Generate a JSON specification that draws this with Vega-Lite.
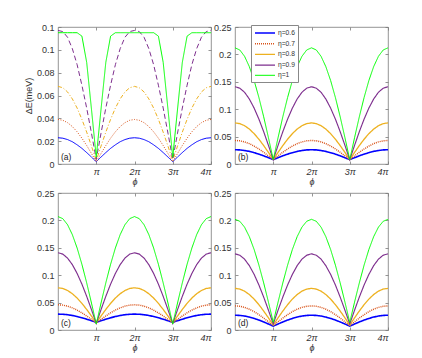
{
"$schema": "https://vega.github.io/schema/vega-lite/v6.json",
"background": "white",
"padding": {"left": 24, "top": 22, "right": 5, "bottom": 5},
"datasets": {
"a": [
{"t":0,"e6":0.023,"e7":0.039,"e8":0.068,"e9":0.117,"e10":0.115},
{"t":0.125,"e6":0.0226,"e7":0.0383,"e8":0.0668,"e9":0.116,"e10":0.115},
{"t":0.25,"e6":0.0214,"e7":0.0362,"e8":0.0631,"e9":0.111,"e10":0.115},
{"t":0.375,"e6":0.0195,"e7":0.0328,"e8":0.057,"e9":0.101,"e10":0.115},
{"t":0.5,"e6":0.0168,"e7":0.0282,"e8":0.049,"e9":0.087,"e10":0.115},
{"t":0.625,"e6":0.0137,"e7":0.0226,"e8":0.0391,"e9":0.069,"e10":0.112},
{"t":0.75,"e6":0.01,"e7":0.0162,"e8":0.0279,"e9":0.049,"e10":0.089},
{"t":0.875,"e6":0.0061,"e7":0.0092,"e8":0.0157,"e9":0.027,"e10":0.048},
{"t":1,"e6":0.002,"e7":0.002,"e8":0.003,"e9":0.004,"e10":0.006},
{"t":1.125,"e6":0.0061,"e7":0.0092,"e8":0.0157,"e9":0.027,"e10":0.048},
{"t":1.25,"e6":0.01,"e7":0.0162,"e8":0.0279,"e9":0.049,"e10":0.089},
{"t":1.375,"e6":0.0137,"e7":0.0226,"e8":0.0391,"e9":0.069,"e10":0.112},
{"t":1.5,"e6":0.0168,"e7":0.0282,"e8":0.049,"e9":0.087,"e10":0.115},
{"t":1.625,"e6":0.0195,"e7":0.0328,"e8":0.057,"e9":0.101,"e10":0.115},
{"t":1.75,"e6":0.0214,"e7":0.0362,"e8":0.0631,"e9":0.111,"e10":0.115},
{"t":1.875,"e6":0.0226,"e7":0.0383,"e8":0.0668,"e9":0.116,"e10":0.115},
{"t":2,"e6":0.023,"e7":0.039,"e8":0.068,"e9":0.117,"e10":0.115},
{"t":2.125,"e6":0.0226,"e7":0.0383,"e8":0.0668,"e9":0.116,"e10":0.115},
{"t":2.25,"e6":0.0214,"e7":0.0362,"e8":0.0631,"e9":0.111,"e10":0.115},
{"t":2.375,"e6":0.0195,"e7":0.0328,"e8":0.057,"e9":0.101,"e10":0.115},
{"t":2.5,"e6":0.0168,"e7":0.0282,"e8":0.049,"e9":0.087,"e10":0.115},
{"t":2.625,"e6":0.0137,"e7":0.0226,"e8":0.0391,"e9":0.069,"e10":0.112},
{"t":2.75,"e6":0.01,"e7":0.0162,"e8":0.0279,"e9":0.049,"e10":0.089},
{"t":2.875,"e6":0.0061,"e7":0.0092,"e8":0.0157,"e9":0.027,"e10":0.048},
{"t":3,"e6":0.002,"e7":0.002,"e8":0.003,"e9":0.004,"e10":0.006},
{"t":3.125,"e6":0.0061,"e7":0.0092,"e8":0.0157,"e9":0.027,"e10":0.048},
{"t":3.25,"e6":0.01,"e7":0.0162,"e8":0.0279,"e9":0.049,"e10":0.089},
{"t":3.375,"e6":0.0137,"e7":0.0226,"e8":0.0391,"e9":0.069,"e10":0.112},
{"t":3.5,"e6":0.0168,"e7":0.0282,"e8":0.049,"e9":0.087,"e10":0.115},
{"t":3.625,"e6":0.0195,"e7":0.0328,"e8":0.057,"e9":0.101,"e10":0.115},
{"t":3.75,"e6":0.0214,"e7":0.0362,"e8":0.0631,"e9":0.111,"e10":0.115},
{"t":3.875,"e6":0.0226,"e7":0.0383,"e8":0.0668,"e9":0.116,"e10":0.115},
{"t":4,"e6":0.023,"e7":0.039,"e8":0.068,"e9":0.117,"e10":0.115}
],
"b": [
{"t":0,"e6":0.026,"e7":0.043,"e8":0.075,"e9":0.141,"e10":0.212},
{"t":0.125,"e6":0.0257,"e7":0.0423,"e8":0.0737,"e9":0.1384,"e10":0.2081},
{"t":0.25,"e6":0.0246,"e7":0.0403,"e8":0.0699,"e9":0.1309,"e10":0.1965},
{"t":0.375,"e6":0.023,"e7":0.0371,"e8":0.0637,"e9":0.1186,"e10":0.1776},
{"t":0.5,"e6":0.0207,"e7":0.0327,"e8":0.0554,"e9":0.102,"e10":0.1523},
{"t":0.625,"e6":0.018,"e7":0.0274,"e8":0.0452,"e9":0.0819,"e10":0.1213},
{"t":0.75,"e6":0.0149,"e7":0.0214,"e8":0.0336,"e9":0.0589,"e10":0.0861},
{"t":0.875,"e6":0.0115,"e7":0.0148,"e8":0.0211,"e9":0.0339,"e10":0.0478},
{"t":1,"e6":0.008,"e7":0.008,"e8":0.008,"e9":0.008,"e10":0.008},
{"t":1.125,"e6":0.0115,"e7":0.0148,"e8":0.0211,"e9":0.0339,"e10":0.0478},
{"t":1.25,"e6":0.0149,"e7":0.0214,"e8":0.0336,"e9":0.0589,"e10":0.0861},
{"t":1.375,"e6":0.018,"e7":0.0274,"e8":0.0452,"e9":0.0819,"e10":0.1213},
{"t":1.5,"e6":0.0207,"e7":0.0327,"e8":0.0554,"e9":0.102,"e10":0.1523},
{"t":1.625,"e6":0.023,"e7":0.0371,"e8":0.0637,"e9":0.1186,"e10":0.1776},
{"t":1.75,"e6":0.0246,"e7":0.0403,"e8":0.0699,"e9":0.1309,"e10":0.1965},
{"t":1.875,"e6":0.0257,"e7":0.0423,"e8":0.0737,"e9":0.1384,"e10":0.2081},
{"t":2,"e6":0.026,"e7":0.043,"e8":0.075,"e9":0.141,"e10":0.212},
{"t":2.125,"e6":0.0257,"e7":0.0423,"e8":0.0737,"e9":0.1384,"e10":0.2081},
{"t":2.25,"e6":0.0246,"e7":0.0403,"e8":0.0699,"e9":0.1309,"e10":0.1965},
{"t":2.375,"e6":0.023,"e7":0.0371,"e8":0.0637,"e9":0.1186,"e10":0.1776},
{"t":2.5,"e6":0.0207,"e7":0.0327,"e8":0.0554,"e9":0.102,"e10":0.1523},
{"t":2.625,"e6":0.018,"e7":0.0274,"e8":0.0452,"e9":0.0819,"e10":0.1213},
{"t":2.75,"e6":0.0149,"e7":0.0214,"e8":0.0336,"e9":0.0589,"e10":0.0861},
{"t":2.875,"e6":0.0115,"e7":0.0148,"e8":0.0211,"e9":0.0339,"e10":0.0478},
{"t":3,"e6":0.008,"e7":0.008,"e8":0.008,"e9":0.008,"e10":0.008},
{"t":3.125,"e6":0.0115,"e7":0.0148,"e8":0.0211,"e9":0.0339,"e10":0.0478},
{"t":3.25,"e6":0.0149,"e7":0.0214,"e8":0.0336,"e9":0.0589,"e10":0.0861},
{"t":3.375,"e6":0.018,"e7":0.0274,"e8":0.0452,"e9":0.0819,"e10":0.1213},
{"t":3.5,"e6":0.0207,"e7":0.0327,"e8":0.0554,"e9":0.102,"e10":0.1523},
{"t":3.625,"e6":0.023,"e7":0.0371,"e8":0.0637,"e9":0.1186,"e10":0.1776},
{"t":3.75,"e6":0.0246,"e7":0.0403,"e8":0.0699,"e9":0.1309,"e10":0.1965},
{"t":3.875,"e6":0.0257,"e7":0.0423,"e8":0.0737,"e9":0.1384,"e10":0.2081},
{"t":4,"e6":0.026,"e7":0.043,"e8":0.075,"e9":0.141,"e10":0.212}
],
"c": [
{"t":0,"e6":0.029,"e7":0.046,"e8":0.077,"e9":0.141,"e10":0.207},
{"t":0.125,"e6":0.0287,"e7":0.0454,"e8":0.0758,"e9":0.1385,"e10":0.2032},
{"t":0.25,"e6":0.0279,"e7":0.0435,"e8":0.0721,"e9":0.1312,"e10":0.1921},
{"t":0.375,"e6":0.0265,"e7":0.0404,"e8":0.0662,"e9":0.1193,"e10":0.174},
{"t":0.5,"e6":0.0246,"e7":0.0363,"e8":0.0583,"e9":0.1032,"e10":0.1496},
{"t":0.625,"e6":0.0223,"e7":0.0313,"e8":0.0486,"e9":0.0837,"e10":0.1199},
{"t":0.75,"e6":0.0197,"e7":0.0256,"e8":0.0375,"e9":0.0614,"e10":0.086},
{"t":0.875,"e6":0.0169,"e7":0.0194,"e8":0.0255,"e9":0.0372,"e10":0.0492},
{"t":1,"e6":0.014,"e7":0.013,"e8":0.013,"e9":0.012,"e10":0.011},
{"t":1.125,"e6":0.0169,"e7":0.0194,"e8":0.0255,"e9":0.0372,"e10":0.0492},
{"t":1.25,"e6":0.0197,"e7":0.0256,"e8":0.0375,"e9":0.0614,"e10":0.086},
{"t":1.375,"e6":0.0223,"e7":0.0313,"e8":0.0486,"e9":0.0837,"e10":0.1199},
{"t":1.5,"e6":0.0246,"e7":0.0363,"e8":0.0583,"e9":0.1032,"e10":0.1496},
{"t":1.625,"e6":0.0265,"e7":0.0404,"e8":0.0662,"e9":0.1193,"e10":0.174},
{"t":1.75,"e6":0.0279,"e7":0.0435,"e8":0.0721,"e9":0.1312,"e10":0.1921},
{"t":1.875,"e6":0.0287,"e7":0.0454,"e8":0.0758,"e9":0.1385,"e10":0.2032},
{"t":2,"e6":0.029,"e7":0.046,"e8":0.077,"e9":0.141,"e10":0.207},
{"t":2.125,"e6":0.0287,"e7":0.0454,"e8":0.0758,"e9":0.1385,"e10":0.2032},
{"t":2.25,"e6":0.0279,"e7":0.0435,"e8":0.0721,"e9":0.1312,"e10":0.1921},
{"t":2.375,"e6":0.0265,"e7":0.0404,"e8":0.0662,"e9":0.1193,"e10":0.174},
{"t":2.5,"e6":0.0246,"e7":0.0363,"e8":0.0583,"e9":0.1032,"e10":0.1496},
{"t":2.625,"e6":0.0223,"e7":0.0313,"e8":0.0486,"e9":0.0837,"e10":0.1199},
{"t":2.75,"e6":0.0197,"e7":0.0256,"e8":0.0375,"e9":0.0614,"e10":0.086},
{"t":2.875,"e6":0.0169,"e7":0.0194,"e8":0.0255,"e9":0.0372,"e10":0.0492},
{"t":3,"e6":0.014,"e7":0.013,"e8":0.013,"e9":0.012,"e10":0.011},
{"t":3.125,"e6":0.0169,"e7":0.0194,"e8":0.0255,"e9":0.0372,"e10":0.0492},
{"t":3.25,"e6":0.0197,"e7":0.0256,"e8":0.0375,"e9":0.0614,"e10":0.086},
{"t":3.375,"e6":0.0223,"e7":0.0313,"e8":0.0486,"e9":0.0837,"e10":0.1199},
{"t":3.5,"e6":0.0246,"e7":0.0363,"e8":0.0583,"e9":0.1032,"e10":0.1496},
{"t":3.625,"e6":0.0265,"e7":0.0404,"e8":0.0662,"e9":0.1193,"e10":0.174},
{"t":3.75,"e6":0.0279,"e7":0.0435,"e8":0.0721,"e9":0.1312,"e10":0.1921},
{"t":3.875,"e6":0.0287,"e7":0.0454,"e8":0.0758,"e9":0.1385,"e10":0.2032},
{"t":4,"e6":0.029,"e7":0.046,"e8":0.077,"e9":0.141,"e10":0.207}
],
"d": [
{"t":0,"e6":0.027,"e7":0.044,"e8":0.076,"e9":0.139,"e10":0.202},
{"t":0.125,"e6":0.0266,"e7":0.0433,"e8":0.0747,"e9":0.1365,"e10":0.1984},
{"t":0.25,"e6":0.0255,"e7":0.0413,"e8":0.0709,"e9":0.1293,"e10":0.1877},
{"t":0.375,"e6":0.0236,"e7":0.0379,"e8":0.0647,"e9":0.1174,"e10":0.1703},
{"t":0.5,"e6":0.0211,"e7":0.0335,"e8":0.0564,"e9":0.1015,"e10":0.1469},
{"t":0.625,"e6":0.0181,"e7":0.028,"e8":0.0462,"e9":0.0821,"e10":0.1184},
{"t":0.75,"e6":0.0147,"e7":0.0218,"e8":0.0346,"e9":0.06,"e10":0.0859},
{"t":0.875,"e6":0.0109,"e7":0.015,"e8":0.0221,"e9":0.036,"e10":0.0507},
{"t":1,"e6":0.007,"e7":0.008,"e8":0.009,"e9":0.011,"e10":0.014},
{"t":1.125,"e6":0.0109,"e7":0.015,"e8":0.0221,"e9":0.036,"e10":0.0507},
{"t":1.25,"e6":0.0147,"e7":0.0218,"e8":0.0346,"e9":0.06,"e10":0.0859},
{"t":1.375,"e6":0.0181,"e7":0.028,"e8":0.0462,"e9":0.0821,"e10":0.1184},
{"t":1.5,"e6":0.0211,"e7":0.0335,"e8":0.0564,"e9":0.1015,"e10":0.1469},
{"t":1.625,"e6":0.0236,"e7":0.0379,"e8":0.0647,"e9":0.1174,"e10":0.1703},
{"t":1.75,"e6":0.0255,"e7":0.0413,"e8":0.0709,"e9":0.1293,"e10":0.1877},
{"t":1.875,"e6":0.0266,"e7":0.0433,"e8":0.0747,"e9":0.1365,"e10":0.1984},
{"t":2,"e6":0.027,"e7":0.044,"e8":0.076,"e9":0.139,"e10":0.202},
{"t":2.125,"e6":0.0266,"e7":0.0433,"e8":0.0747,"e9":0.1365,"e10":0.1984},
{"t":2.25,"e6":0.0255,"e7":0.0413,"e8":0.0709,"e9":0.1293,"e10":0.1877},
{"t":2.375,"e6":0.0236,"e7":0.0379,"e8":0.0647,"e9":0.1174,"e10":0.1703},
{"t":2.5,"e6":0.0211,"e7":0.0335,"e8":0.0564,"e9":0.1015,"e10":0.1469},
{"t":2.625,"e6":0.0181,"e7":0.028,"e8":0.0462,"e9":0.0821,"e10":0.1184},
{"t":2.75,"e6":0.0147,"e7":0.0218,"e8":0.0346,"e9":0.06,"e10":0.0859},
{"t":2.875,"e6":0.0109,"e7":0.015,"e8":0.0221,"e9":0.036,"e10":0.0507},
{"t":3,"e6":0.007,"e7":0.008,"e8":0.009,"e9":0.011,"e10":0.014},
{"t":3.125,"e6":0.0109,"e7":0.015,"e8":0.0221,"e9":0.036,"e10":0.0507},
{"t":3.25,"e6":0.0147,"e7":0.0218,"e8":0.0346,"e9":0.06,"e10":0.0859},
{"t":3.375,"e6":0.0181,"e7":0.028,"e8":0.0462,"e9":0.0821,"e10":0.1184},
{"t":3.5,"e6":0.0211,"e7":0.0335,"e8":0.0564,"e9":0.1015,"e10":0.1469},
{"t":3.625,"e6":0.0236,"e7":0.0379,"e8":0.0647,"e9":0.1174,"e10":0.1703},
{"t":3.75,"e6":0.0255,"e7":0.0413,"e8":0.0709,"e9":0.1293,"e10":0.1877},
{"t":3.875,"e6":0.0266,"e7":0.0433,"e8":0.0747,"e9":0.1365,"e10":0.1984},
{"t":4,"e6":0.027,"e7":0.044,"e8":0.076,"e9":0.139,"e10":0.202}
]
},
"columns": 2,
"spacing": {"row": 29, "column": 24},
"bounds": "flush",
"resolve": {"scale": {"color": "independent", "strokeDash": "independent", "strokeWidth": "independent"}, "legend": {"color": "independent", "strokeDash": "independent", "strokeWidth": "independent"}},
"concat": [
{
"width": 153, "height": 137,
"resolve": {"axis": {"x": "independent", "y": "independent"}},
"layer": [
{"data": {"name": "a"}, "transform": [{"fold": ["e6","e7","e8","e9","e10"], "as": ["eta","v"]}],
 "mark": {"type": "line", "strokeWidth": 1, "clip": true},
 "encoding": {
  "x": {"field": "t", "type": "quantitative", "scale": {"domain": [0,4], "nice": false}, "axis": {"values": [1,2,3,4], "labelOverlap": false, "labelExpr": "datum.value == 1 ? 'π' : datum.value + 'π'", "title": "ϕ"}},
  "y": {"field": "v", "type": "quantitative", "scale": {"domain": [0,0.12], "nice": false}, "axis": {"values": [0,0.02,0.04,0.06,0.08,0.1,0.12], "labelOverlap": false, "format": "~g", "title": "ΔE(meV)"}},
  "color": {"field": "eta", "type": "nominal", "scale": {"domain": ["e6","e7","e8","e9","e10"], "range": ["#0000ff","#d95319","#edb120","#7e2f8e","#00ff00"]}, "legend": null},
  "strokeDash": {"field": "eta", "type": "nominal", "scale": {"domain": ["e6","e7","e8","e9","e10"], "range": [[1,0],[1,1.5],[4,2,1,2],[5,3],[1,0]]}, "legend": null}
 }},
{"data": {"values": [{"lab": "(a)"}]}, "mark": {"type": "text", "align": "left", "baseline": "bottom", "dx": 3, "dy": -2, "fontSize": 8.5, "font": "Liberation Sans", "color": "#222"},
 "encoding": {"x": {"datum": 0, "type": "quantitative", "axis": {"orient": "top", "values": [1,2,3,4], "labels": false, "title": null}}, "y": {"datum": 0, "type": "quantitative", "axis": {"orient": "right", "values": [0,0.02,0.04,0.06,0.08,0.1,0.12], "labels": false, "title": null}}, "text": {"field": "lab"}}}
]
},
{
"width": 153, "height": 137,
"resolve": {"axis": {"x": "independent", "y": "independent"}},
"layer": [
{"data": {"name": "b"}, "transform": [{"fold": ["e6","e7","e8","e9","e10"], "as": ["eta","v"]}],
 "mark": {"type": "line", "clip": true},
 "encoding": {
  "x": {"field": "t", "type": "quantitative", "scale": {"domain": [0,4], "nice": false}, "axis": {"values": [1,2,3,4], "labelOverlap": false, "labelExpr": "datum.value == 1 ? 'π' : datum.value + 'π'", "title": "ϕ"}},
  "y": {"field": "v", "type": "quantitative", "scale": {"domain": [0,0.25], "nice": false}, "axis": {"values": [0,0.05,0.1,0.15,0.2,0.25], "labelOverlap": false, "format": "~g", "title": null}},
  "color": {"field": "eta", "type": "nominal", "scale": {"domain": ["e6","e7","e8","e9","e10"], "range": ["#0000ff","#d95319","#edb120","#7e2f8e","#00ff00"]},
   "legend": {"orient": "none", "legendX": 16, "legendY": -2, "title": null, "symbolType": "M-1,0H4", "symbolSize": 64, "symbolStrokeWidth": 1, "labelFontSize": 6.7, "labelFont": "Liberation Sans", "labelColor": "#333", "labelOffset": 14, "padding": 3, "rowPadding": 1.7, "strokeColor": "#888", "fillColor": "white",
    "labelExpr": "datum.value == 'e6' ? 'η=0.6' : datum.value == 'e7' ? 'η=0.7' : datum.value == 'e8' ? 'η=0.8' : datum.value == 'e9' ? 'η=0.9' : 'η=1'",
    "encode": {"symbols": {"update": {"strokeDash": {"signal": "datum.value == 'e7' ? [1,1.5] : datum.value == 'e8' ? [4,2,1,2] : datum.value == 'e9' ? [5,3] : [1,0]"}, "strokeWidth": {"signal": "datum.value == 'e6' ? 1.8 : 1"}}}}}},
  "strokeWidth": {"field": "eta", "type": "nominal", "scale": {"domain": ["e6","e7","e8","e9","e10"], "range": [1.6,1,1,1,1]}, "legend": null},
  "strokeDash": {"field": "eta", "type": "nominal", "scale": {"domain": ["e6","e7","e8","e9","e10"], "range": [[1,0],[1,1],[1,0],[1,0],[1,0]]}, "legend": null}
 }},
{"data": {"values": [{"lab": "(b)"}]}, "mark": {"type": "text", "align": "left", "baseline": "bottom", "dx": 3, "dy": -2, "fontSize": 8.5, "font": "Liberation Sans", "color": "#222"},
 "encoding": {"x": {"datum": 0, "type": "quantitative", "axis": {"orient": "top", "values": [1,2,3,4], "labels": false, "title": null}}, "y": {"datum": 0, "type": "quantitative", "axis": {"orient": "right", "values": [0,0.05,0.1,0.15,0.2,0.25], "labels": false, "title": null}}, "text": {"field": "lab"}}}
]
},
{
"width": 153, "height": 137,
"resolve": {"axis": {"x": "independent", "y": "independent"}},
"layer": [
{"data": {"name": "c"}, "transform": [{"fold": ["e6","e7","e8","e9","e10"], "as": ["eta","v"]}],
 "mark": {"type": "line", "clip": true},
 "encoding": {
  "x": {"field": "t", "type": "quantitative", "scale": {"domain": [0,4], "nice": false}, "axis": {"values": [1,2,3,4], "labelOverlap": false, "labelExpr": "datum.value == 1 ? 'π' : datum.value + 'π'", "title": "ϕ"}},
  "y": {"field": "v", "type": "quantitative", "scale": {"domain": [0,0.25], "nice": false}, "axis": {"values": [0,0.05,0.1,0.15,0.2,0.25], "labelOverlap": false, "format": "~g", "title": null}},
  "color": {"field": "eta", "type": "nominal", "scale": {"domain": ["e6","e7","e8","e9","e10"], "range": ["#0000ff","#d95319","#edb120","#7e2f8e","#00ff00"]}, "legend": null},
  "strokeWidth": {"field": "eta", "type": "nominal", "scale": {"domain": ["e6","e7","e8","e9","e10"], "range": [1.6,1,1,1,1]}, "legend": null},
  "strokeDash": {"field": "eta", "type": "nominal", "scale": {"domain": ["e6","e7","e8","e9","e10"], "range": [[1,0],[1,1],[1,0],[1,0],[1,0]]}, "legend": null}
 }},
{"data": {"values": [{"lab": "(c)"}]}, "mark": {"type": "text", "align": "left", "baseline": "bottom", "dx": 3, "dy": -2, "fontSize": 8.5, "font": "Liberation Sans", "color": "#222"},
 "encoding": {"x": {"datum": 0, "type": "quantitative", "axis": {"orient": "top", "values": [1,2,3,4], "labels": false, "title": null}}, "y": {"datum": 0, "type": "quantitative", "axis": {"orient": "right", "values": [0,0.05,0.1,0.15,0.2,0.25], "labels": false, "title": null}}, "text": {"field": "lab"}}}
]
},
{
"width": 153, "height": 137,
"resolve": {"axis": {"x": "independent", "y": "independent"}},
"layer": [
{"data": {"name": "d"}, "transform": [{"fold": ["e6","e7","e8","e9","e10"], "as": ["eta","v"]}],
 "mark": {"type": "line", "clip": true},
 "encoding": {
  "x": {"field": "t", "type": "quantitative", "scale": {"domain": [0,4], "nice": false}, "axis": {"values": [1,2,3,4], "labelOverlap": false, "labelExpr": "datum.value == 1 ? 'π' : datum.value + 'π'", "title": "ϕ"}},
  "y": {"field": "v", "type": "quantitative", "scale": {"domain": [0,0.25], "nice": false}, "axis": {"values": [0,0.05,0.1,0.15,0.2,0.25], "labelOverlap": false, "format": "~g", "title": null}},
  "color": {"field": "eta", "type": "nominal", "scale": {"domain": ["e6","e7","e8","e9","e10"], "range": ["#0000ff","#d95319","#edb120","#7e2f8e","#00ff00"]}, "legend": null},
  "strokeWidth": {"field": "eta", "type": "nominal", "scale": {"domain": ["e6","e7","e8","e9","e10"], "range": [1.6,1,1,1,1]}, "legend": null},
  "strokeDash": {"field": "eta", "type": "nominal", "scale": {"domain": ["e6","e7","e8","e9","e10"], "range": [[1,0],[1,1],[1,0],[1,0],[1,0]]}, "legend": null}
 }},
{"data": {"values": [{"lab": "(d)"}]}, "mark": {"type": "text", "align": "left", "baseline": "bottom", "dx": 3, "dy": -2, "fontSize": 8.5, "font": "Liberation Sans", "color": "#222"},
 "encoding": {"x": {"datum": 0, "type": "quantitative", "axis": {"orient": "top", "values": [1,2,3,4], "labels": false, "title": null}}, "y": {"datum": 0, "type": "quantitative", "axis": {"orient": "right", "values": [0,0.05,0.1,0.15,0.2,0.25], "labels": false, "title": null}}, "text": {"field": "lab"}}}
]
}
],
"config": {
 "view": {"stroke": "#7a7a7a", "strokeWidth": 0.8},
 "axis": {"grid": false, "domain": false, "labelOverlap": false, "labelFont": "Liberation Sans", "titleFont": "Liberation Sans", "labelFontSize": 9, "labelColor": "#333", "titleColor": "#333", "titleFontWeight": "normal", "titleFontSize": 9, "tickColor": "#7a7a7a", "tickSize": -3, "tickWidth": 0.8},
 "axisX": {"labelPadding": 6, "titlePadding": 1, "titleFontStyle": "italic", "labelFontStyle": "italic"},
 "axisY": {"labelPadding": 7, "titlePadding": 3}
}
}
